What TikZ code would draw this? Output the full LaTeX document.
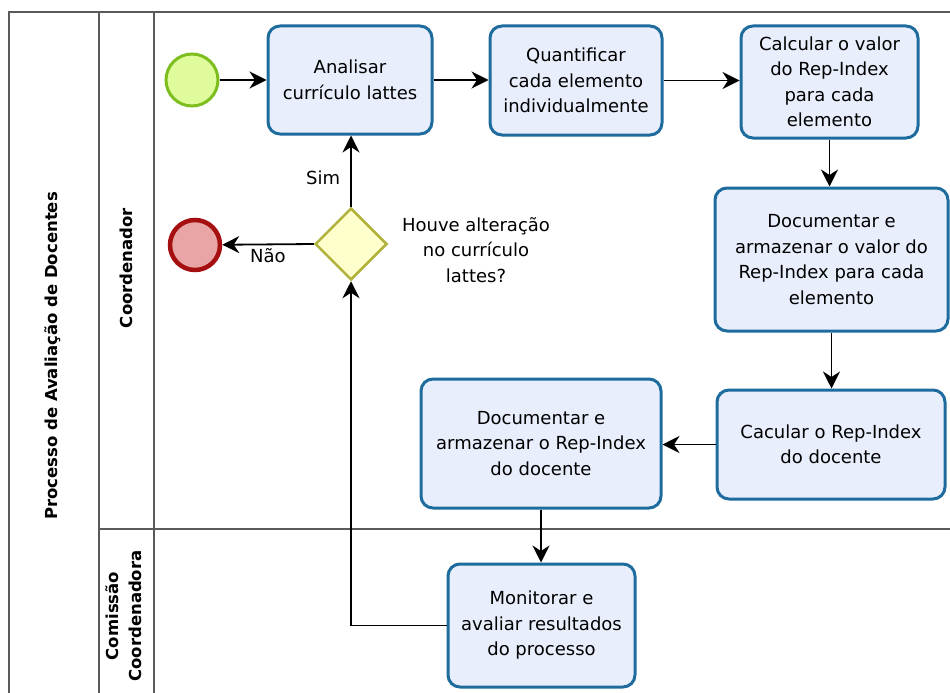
\documentclass[tikz,border=0pt]{standalone}
\usepackage{fontspec}
\setmainfont{DejaVu Sans}
\usetikzlibrary{arrows.meta,shapes.geometric}

\definecolor{taskfill}{HTML}{E9EEFC}
\definecolor{taskdraw}{HTML}{1E6C9E}
\definecolor{startfill}{HTML}{E0FB9C}
\definecolor{startdraw}{HTML}{7DBE1F}
\definecolor{endfill}{HTML}{E9A4A6}
\definecolor{enddraw}{HTML}{A50F0F}
\definecolor{gwfill}{HTML}{FFFFCC}
\definecolor{gwdraw}{HTML}{B2B23C}
\definecolor{poolline}{HTML}{5A5A5A}

\begin{document}
\begin{tikzpicture}[x=1pt,y=-1pt,
  task/.style={draw=taskdraw, fill=taskfill, line width=3pt, rounded corners=12pt,
    align=center, inner sep=0pt, font=\fontsize{18}{25.5}\selectfont},
  startev/.style={circle, draw=startdraw, fill=startfill, line width=3pt,
    minimum size=52pt, inner sep=0pt},
  endev/.style={circle, draw=enddraw, fill=endfill, line width=4.5pt,
    minimum size=50pt, inner sep=0pt},
  gateway/.style={diamond, aspect=1, draw=gwdraw, fill=gwfill, line width=2.5pt,
    minimum width=72pt, minimum height=72pt, inner sep=0pt},
  flow/.style={-{Stealth[length=17pt,width=17pt,inset=5.5pt]}, line width=1.8pt},
  lbl/.style={font=\fontsize{18}{25.5}\selectfont, align=center, inner sep=2pt},
  lanelbl/.style={font=\fontsize{16.5}{23}\selectfont\bfseries, align=center, rotate=90, inner sep=0pt},
  lane/.style={draw=poolline, line width=2pt}
]
\useasboundingbox (0,0) rectangle (950,693);
\fill[white] (0,0) rectangle (950,693);

% pool and lanes
\draw[lane, line width=2.5pt] (9,693) -- (9,12) -- (950,12);
\draw[lane] (99,12) -- (99,693);
\draw[lane] (154,12) -- (154,693);
\draw[lane] (99,529) -- (950,529);

\node[lanelbl] (pool) at (53,356) {Processo de Avaliação de Docentes};
\node[lanelbl] (lanecoord) at (126,268) {Coordenador};
\node[lanelbl] (lanecom) at (124,616) {Comissão\\Coordenadora};

% events and gateway
\node[startev] (start) at (192,80) {};
\node[endev] (endev) at (195,245) {};
\node[gateway] (gw) at (351,244) {};
\node[lbl] (question) at (476,250) {Houve alteração\\no currículo\\lattes?};

% tasks
\node[task, minimum width=164pt, minimum height=108pt] (analisar) at (350,80)
  {Analisar\\currículo lattes};
\node[task, minimum width=172pt, minimum height=109pt] (quant) at (576,80.5)
  {Quantificar\\cada elemento\\individualmente};
\node[task, minimum width=177pt, minimum height=112pt] (calc) at (829.5,82)
  {Calcular o valor\\do Rep-Index\\para cada\\elemento};
\node[task, minimum width=233pt, minimum height=143pt] (docval) at (831.5,259.5)
  {Documentar e\\armazenar o valor do\\Rep-Index para cada\\elemento};
\node[task, minimum width=228pt, minimum height=109pt] (cacular) at (831,444.5)
  {Cacular o Rep-Index\\do docente};
\node[task, minimum width=240pt, minimum height=129pt] (docdoc) at (541,443.5)
  {Documentar e\\armazenar o Rep-Index\\do docente};
\node[task, minimum width=187pt, minimum height=123pt] (monit) at (541.5,625.5)
  {Monitorar e\\avaliar resultados\\do processo};

% sequence flows
\draw[flow] (start) -- (analisar);
\draw[flow] (analisar.east) -- (analisar.east -| quant.west);
\draw[flow] (quant.east) -- (quant.east -| calc.west);
\draw[flow] (calc.south) -- (calc.south |- docval.north);
\draw[flow] (docval.south) -- (docval.south |- cacular.north);
\draw[flow] (cacular.west) -- (cacular.west -| docdoc.east);
\draw[flow] (docdoc.south) -- (docdoc.south |- monit.north);
\draw[flow] (monit.west) -| (gw.south);
\draw[flow] (gw.north) -- (gw.north |- analisar.south)
  node[lbl, pos=0.4, left=8pt] (sim) {Sim};
\draw[flow] (gw.west) -- (endev)
  node[lbl, midway, below=1pt] (nao) {Não};
\end{tikzpicture}
\end{document}
